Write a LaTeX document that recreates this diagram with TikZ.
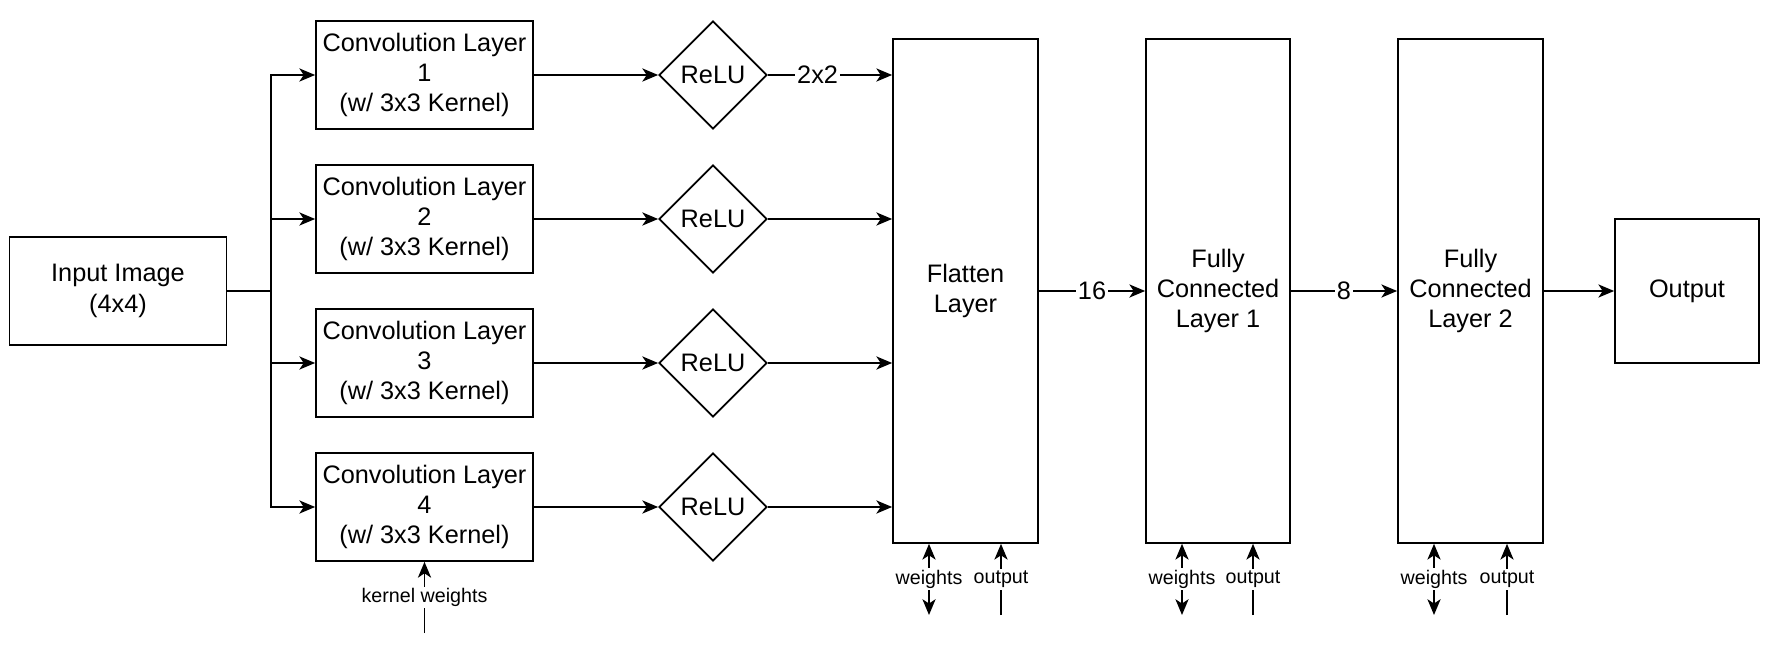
\documentclass[tikz,border=0pt]{standalone}
\usepackage{fontspec}
\setmainfont{Liberation Sans}
\usetikzlibrary{shapes.geometric,arrows.meta}
\begin{document}
\begin{tikzpicture}[x=0.02cm,y=-0.02cm,line width=1pt,
  >={Stealth[length=9pt,width=7.5pt,inset=2.5pt]},
  font=\fontsize{14.4}{17.3}\selectfont,
  box/.style={draw,align=center,inner sep=0pt},
  gate/.style={draw,diamond,aspect=1,minimum width=2.16cm,minimum height=2.16cm,inner sep=0pt},
  lbl/.style={fill=white,inner sep=1pt},
  note/.style={fill=white,inner sep=1pt,font=\fontsize{11.2}{13.4}\selectfont}]
\useasboundingbox (0,0) rectangle (1768,651);
\node[box,minimum width=4.34cm,minimum height=2.16cm] (input) at (118,291) {Input Image\\(4x4)};
\coordinate (split) at (271,291);
\foreach \i in {1,...,4} {
  \pgfmathsetmacro\yy{75+144*(\i-1)}
  \node[box,minimum width=4.34cm,minimum height=2.16cm] (conv\i) at (424.5,\yy) {Convolution Layer\\\i\\(w/ 3x3 Kernel)};
  \node[gate] (relu\i) at (713,\yy) {ReLU};
}
\node[box,minimum width=2.9cm,minimum height=10.08cm] (flat) at (965.5,291) {Flatten\\Layer};
\node[box,minimum width=2.88cm,minimum height=10.08cm] (fc1) at (1218,291) {Fully\\Connected\\Layer 1};
\node[box,minimum width=2.9cm,minimum height=10.08cm] (fc2) at (1470.5,291) {Fully\\Connected\\Layer 2};
\node[box,minimum width=2.88cm,minimum height=2.88cm] (out) at (1687,291) {Output};
% branches into the four convolutions
\foreach \i in {1,...,4} {
  \draw[->] (input) -- (split) |- (conv\i);
  \draw[->] (conv\i) -- (relu\i);
  \draw[->] (relu\i) -- (relu\i -| flat.west);
}
\path (relu1) -- (relu1 -| flat.west) node[pos=0.4,lbl] {2x2};
\draw[->] (flat) -- (fc1) node[midway,lbl] {16};
\draw[->] (fc1) -- (fc2) node[midway,lbl] {8};
\draw[->] (fc2) -- (out);
% weights and outputs under the dense layers
\foreach \b/\xw/\xo in {flat/929/1001,fc1/1182/1253,fc2/1434/1507} {
  \coordinate (\b-w) at (\xw,615);
  \coordinate (\b-o) at (\xo,615);
  \draw[<->] (\b-w) -- (\b-w |- \b.south) node[midway,note] {weights};
  \draw[->] (\b-o) -- (\b-o |- \b.south) node[midway,note] {output};
}
\coordinate (kw) at (424.5,633);
\draw[->] (kw) -- (conv4.south) node[midway,note] {kernel weights};
\end{tikzpicture}
\end{document}
